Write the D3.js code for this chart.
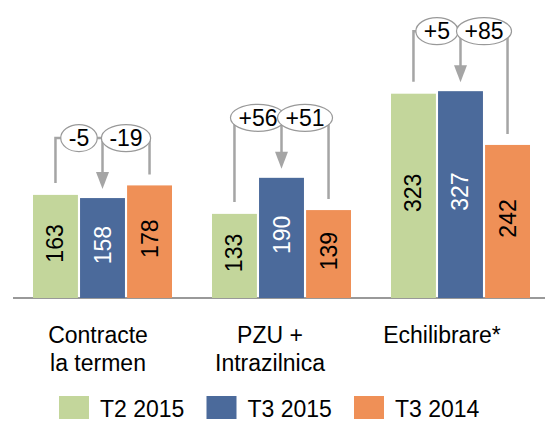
<!DOCTYPE html>
<html>
<head>
<meta charset="utf-8">
<script src="https://cdn.jsdelivr.net/npm/d3@7"></script>
<style>
  body { margin: 0; background: #fff; }
  svg { display: block; font-family: "Liberation Sans", Arial, sans-serif; }
</style>
</head>
<body>
<svg id="chart" width="545" height="422"></svg>
<script>
const categories = ["Contracte\nla termen", "PZU +\nIntrazilnica", "Echilibrare*"];
const series = ["T2 2015", "T3 2015", "T3 2014"];
const valuesT2_2015 = [163, 133, 323];
const valuesT3_2015 = [158, 190, 327];
const valuesT3_2014 = [178, 139, 242];
const diffVsT2 = ["-5", "+56", "+5"];
const diffVsT3_2014 = ["-19", "+51", "+85"];
const colors = ["#c3d69b", "#4b6a9b", "#ef9057"];
const labelColors = ["#000", "#fff", "#000"];

const svg = d3.select("#chart");
const baseY = 298;

const x0 = d3.scaleBand()
  .domain(categories)
  .range([-7, 570])
  .padding(0.2235);

const x1 = d3.scaleBand()
  .domain(series)
  .range([0, x0.bandwidth()])
  .paddingInner(0.045);

const y = d3.scaleLinear()
  .domain([0, 400])
  .range([baseY, 45]);

const labelX = d3.scalePoint()
  .domain(categories)
  .range([98, 442]);

const seriesValues = [valuesT2_2015, valuesT3_2015, valuesT3_2014];

const chartData = categories.map((c, i) => ({
  category: c,
  bars: series.map((s, j) => ({ series: s, value: seriesValues[j][i], j: j }))
}));

// baseline
svg.append("line")
  .attr("x1", 13)
  .attr("x2", 545)
  .attr("y1", baseY)
  .attr("y2", baseY)
  .attr("stroke", "#999")
  .attr("stroke-width", 2);

const groups = svg.selectAll(".group")
  .data(chartData)
  .join("g")
  .attr("class", "group")
  .attr("transform", d => `translate(${x0(d.category)},0)`);

groups.selectAll("rect")
  .data(d => d.bars)
  .join("rect")
  .attr("x", d => x1(d.series))
  .attr("y", d => y(d.value))
  .attr("width", x1.bandwidth())
  .attr("height", d => baseY - y(d.value))
  .attr("fill", d => colors[d.j]);

groups.selectAll(".val")
  .data(d => d.bars)
  .join("text")
  .attr("class", "val")
  .attr("transform", d => {
    const cx = x1(d.series) + x1.bandwidth() / 2;
    const cy = (y(d.value) + baseY) / 2 - 3;
    return `translate(${cx},${cy}) rotate(-90)`;
  })
  .attr("text-anchor", "middle")
  .attr("dominant-baseline", "central")
  .attr("font-size", "23px")
  .attr("fill", d => labelColors[d.j])
  .text(d => d.value);

// change annotations
const lineColor = "#a5a5a5";
chartData.forEach((d, i) => {
  const left = x0(d.category);
  const cx = d.bars.map(b => left + x1(b.series) + x1.bandwidth() / 2);
  const tops = d.bars.map(b => y(b.value));
  const labelY = tops[1] - 60;
  const g = svg.append("g");

  g.append("path")
    .attr("d", `M${cx[0]},${tops[0] - 12}V${labelY}H${cx[1]}`)
    .attr("fill", "none")
    .attr("stroke", lineColor)
    .attr("stroke-width", 2.5);

  g.append("path")
    .attr("d", `M${cx[2]},${tops[2] - 11}V${labelY}H${cx[1]}`)
    .attr("fill", "none")
    .attr("stroke", lineColor)
    .attr("stroke-width", 2.5);

  const tip = tops[1] - 9;
  g.append("path")
    .attr("d", `M${cx[1]},${labelY}V${tip - 14}`)
    .attr("stroke", lineColor)
    .attr("stroke-width", 2.5);

  g.append("path")
    .attr("d", `M${cx[1] - 6.5},${tip - 17}L${cx[1] + 6.5},${tip - 17}L${cx[1]},${tip}Z`)
    .attr("fill", lineColor);

  const bubbles = [
    { text: diffVsT2[i], x: (cx[0] + cx[1]) / 2 },
    { text: diffVsT3_2014[i], x: (cx[1] + cx[2]) / 2 }
  ];

  bubbles.forEach(b => {
    const e = g.append("ellipse")
      .attr("cx", b.x)
      .attr("cy", labelY)
      .attr("ry", 13.5)
      .attr("fill", "#fff")
      .attr("stroke", "#999")
      .attr("stroke-width", 1.2);
    const t = g.append("text")
      .attr("x", b.x)
      .attr("y", labelY)
      .attr("text-anchor", "middle")
      .attr("dominant-baseline", "central")
      .attr("font-size", "23px")
      .attr("fill", "#000")
      .text(b.text);
    e.attr("rx", t.node().getComputedTextLength() / 2 + 8);
  });
});

// category labels
svg.selectAll(".cat")
  .data(categories)
  .join("text")
  .attr("class", "cat")
  .attr("text-anchor", "middle")
  .attr("font-size", "23px")
  .attr("fill", "#000")
  .each(function(c) {
    d3.select(this).selectAll("tspan")
      .data(c.split("\n"))
      .join("tspan")
      .attr("x", labelX(c))
      .attr("y", (l, k) => 343 + k * 28)
      .text(l => l);
  });

// legend
const legendX = d3.scalePoint()
  .domain(series)
  .range([59, 354]);

const legend = svg.selectAll(".legend")
  .data(series)
  .join("g")
  .attr("class", "legend")
  .attr("transform", d => `translate(${legendX(d)},396)`);

legend.append("rect")
  .attr("width", 30)
  .attr("height", 23)
  .attr("fill", (d, i) => colors[i]);

legend.append("text")
  .attr("x", 41)
  .attr("y", 21)
  .attr("font-size", "23px")
  .attr("fill", "#000")
  .text(d => d);
</script>
</body>
</html>
